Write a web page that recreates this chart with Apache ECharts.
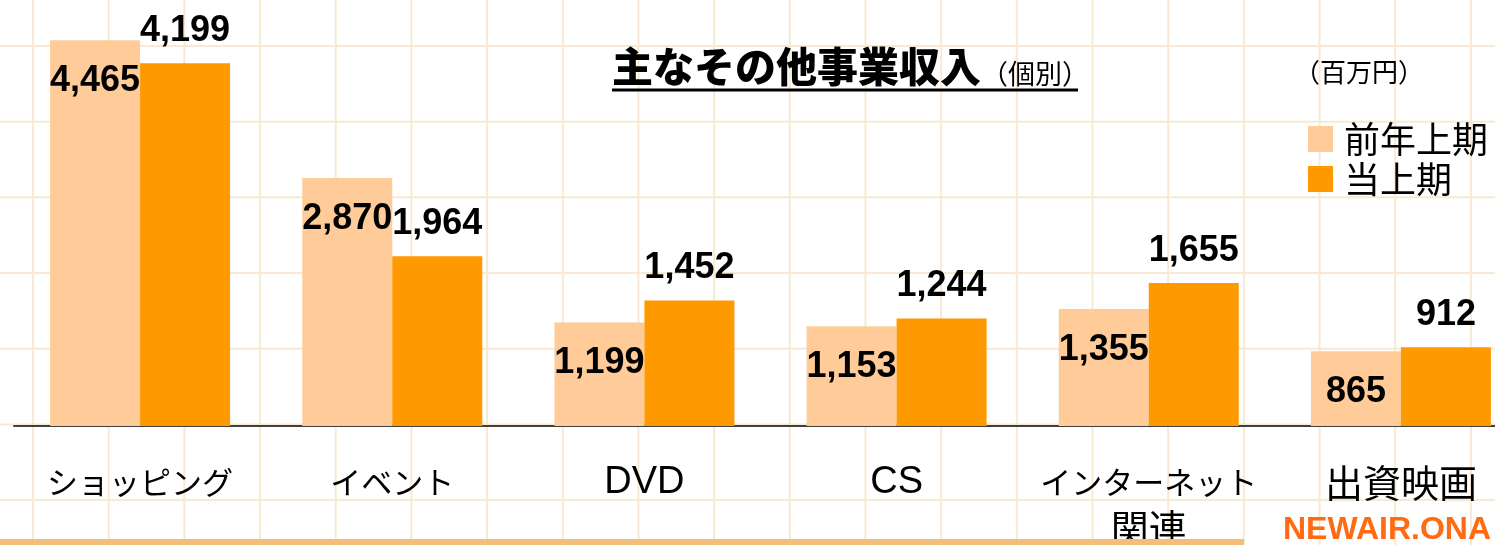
<!DOCTYPE html>
<html>
<head>
<meta charset="utf-8">
<script src="https://cdn.jsdelivr.net/npm/echarts@6/dist/echarts.min.js"></script>
<style>
  html, body { margin: 0; padding: 0; background: #fff; }
  #chart { width: 1495px; height: 545px; }
</style>
</head>
<body>
<div id="chart"></div>
<script>
// 区分
const categories = ['ショッピング', 'イベント', 'DVD', 'CS', 'インターネット\n関連', '出資映画'];
// 百万円
const prevHalf = [4465, 2870, 1199, 1153, 1355, 865];
const curHalf = [4199, 1964, 1452, 1244, 1655, 912];
const seriesNames = ['前年上期', '当上期'];

// 背景の方眼
const bgLines = [];
const step = 75.68;
for (let x = 33; x < 1495; x += step) {
  bgLines.push({ type: 'line', z: -10, silent: true,
    shape: { x1: x, y1: 0, x2: x, y2: 545 },
    style: { stroke: '#F8EAD2', lineWidth: 2 } });
}
for (let y = 46; y < 545; y += step) {
  bgLines.push({ type: 'line', z: -10, silent: true,
    shape: { x1: 0, y1: y, x2: 1495, y2: y },
    style: { stroke: '#F8EAD2', lineWidth: 2 } });
}

// カナ / 英字 / 漢字でサイズを変える
function fmtLabel(v) {
  return v.split('\n').map(function (line) {
    return line.replace(/[\u30A0-\u30FF]+|[A-Za-z0-9]+|[^\u30A0-\u30FFA-Za-z0-9]+/g, function (m) {
      const t = /[\u30A0-\u30FF]/.test(m) ? 'k' : (/[A-Za-z0-9]/.test(m) ? 'l' : 'j');
      return '{' + t + '|' + m + '}';
    });
  }).join('\n');
}

const chart = echarts.init(document.getElementById('chart'));
const numLabel = {
  show: true,
  fontFamily: 'Liberation Sans',
  fontWeight: 'bold',
  fontSize: 36,
  color: '#000',
  formatter: function (p) { return p.value.toLocaleString('en-US'); }
};

chart.setOption({
  animation: false,
  backgroundColor: '#fff',
  title: {
    left: 612,
    top: 43,
    padding: 0,
    text: '{a|主なその他事業収入}{b|（個別）}',
    textStyle: {
      rich: {
        a: { fontFamily: 'Noto Sans CJK JP', fontWeight: 900, fontSize: 41, color: '#000', verticalAlign: 'bottom', lineHeight: 44 },
        b: { fontFamily: 'Noto Sans CJK JP', fontWeight: 'normal', fontSize: 27, color: '#000', verticalAlign: 'bottom', lineHeight: 36 }
      }
    }
  },
  legend: {
    orient: 'vertical',
    left: 1308,
    top: 121,
    padding: 0,
    itemWidth: 25,
    itemHeight: 26,
    itemGap: 4,
    icon: 'rect',
    data: seriesNames,
    textStyle: {
      fontFamily: 'Noto Sans CJK JP',
      fontSize: 36,
      lineHeight: 36,
      color: '#000',
      padding: [0, 0, 0, 6]
    }
  },
  grid: { left: 14, top: 0, width: 1513, bottom: 119, containLabel: false, outerBoundsMode: 'none' },
  xAxis: {
    type: 'category',
    data: categories,
    axisLine: { lineStyle: { color: '#404040', width: 2 } },
    axisTick: { show: false },
    axisLabel: {
      interval: 0,
      margin: 34,
      color: '#000',
      formatter: fmtLabel,
      rich: {
        k: { fontFamily: 'Noto Sans CJK JP', fontSize: 31, lineHeight: 45, color: '#000' },
        j: { fontFamily: 'Noto Sans CJK JP', fontSize: 38, lineHeight: 45, color: '#000' },
        l: { fontFamily: 'Liberation Sans', fontSize: 38, lineHeight: 45, color: '#000' }
      }
    }
  },
  yAxis: {
    type: 'value',
    min: 0,
    max: 4930,
    show: false,
    splitLine: { show: false }
  },
  series: [
    {
      name: seriesNames[0],
      type: 'bar',
      data: prevHalf,
      barWidth: 90,
      barGap: '0%',
      itemStyle: { color: '#FFCC99' },
      label: Object.assign({}, numLabel, { position: 'insideTop', distance: 23 })
    },
    {
      name: seriesNames[1],
      type: 'bar',
      data: curHalf,
      barWidth: 90,
      barGap: '0%',
      itemStyle: { color: '#FF9900' },
      label: Object.assign({}, numLabel, { position: 'top', distance: 14 })
    }
  ],
  graphic: bgLines.concat([
    { type: 'line', z: 10, silent: true,
      shape: { x1: 612, y1: 90, x2: 1078, y2: 90 },
      style: { stroke: '#000', lineWidth: 3 } },
    { type: 'text', z: 10, left: 1294, top: 59,
      style: { text: '（百万円）', font: '26px "Noto Sans CJK JP"', fill: '#000' } },
    { type: 'rect', z: 10, silent: true,
      shape: { x: 0, y: 539, width: 1244, height: 6 },
      style: { fill: '#F5BE78' } },
    { type: 'text', z: 10, x: 1283, y: 546,
      style: { text: 'NEWAIR.ONA', font: 'bold 32px "Liberation Sans"', fill: '#FF6A13', textVerticalAlign: 'bottom' } }
  ])
});
</script>
</body>
</html>
